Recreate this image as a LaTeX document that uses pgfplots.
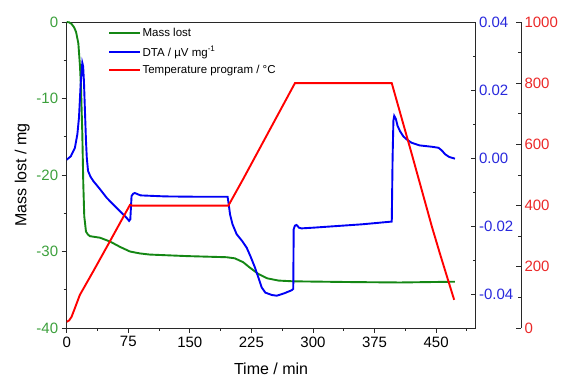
\documentclass[border=0pt]{standalone}
\usepackage{fontspec}
\setmainfont{Liberation Sans}
\usepackage{pgfplots}
\pgfplotsset{compat=1.18}
\definecolor{mgreen}{RGB}{20,135,20}
\definecolor{mgreenT}{RGB}{60,160,60}
\definecolor{mblue}{RGB}{0,0,245}
\definecolor{mblueT}{RGB}{40,40,220}
\definecolor{mred}{RGB}{255,0,0}
\definecolor{mredT}{RGB}{235,40,40}
\definecolor{axgray}{RGB}{40,40,40}
\pgfplotsset{
  common/.style={
    width=408.8pt, height=306pt, scale only axis,
    xmin=0, xmax=498,
    /pgf/number format/assume math mode=true,
    /pgf/number format/1000 sep={},
    tick label style={font=\fontsize{15}{18}\selectfont},
    axis line style={axgray, line width=0.8pt},
    every tick/.style={axgray, line width=0.8pt},
    major tick length=5pt, minor tick length=3pt,
  }
}
\begin{document}
\begin{tikzpicture}
\begin{axis}[common, name=main,
  ymin=-40, ymax=0,
  xtick={0,75,...,450}, minor xtick={37.5,112.5,...,487.5},
  ytick={-40,-30,...,0}, minor ytick={-35,-25,...,-5},
  xtick pos=bottom, ytick pos=left, tick align=outside,
  yticklabel style={text=mgreenT},
  xlabel={Time / min}, ylabel={Mass lost / mg},
  label style={font=\fontsize{16}{19}\selectfont},
  xlabel style={yshift=-8.5pt},
]
\addplot[mgreen, line width=1.9pt] coordinates {
(0,0) (3,-0.05) (6,-0.26) (9,-0.7) (11.4,-1.3) (14.2,-2.8) (16.2,-5.8) (17.4,-8.5)
(19,-14.5) (20.2,-21.1) (21.4,-25.4) (23.5,-27.4) (26,-27.8) (28.4,-28.0) (40.6,-28.2)
(52.8,-28.7) (65,-29.4) (77,-30.0) (89,-30.25) (101,-30.4) (146,-30.6) (195,-30.75)
(205,-30.9) (215,-31.4) (223,-32.1) (233,-32.9) (244,-33.5) (258,-33.8) (276,-33.9)
(350,-34.0) (406,-34.05) (473,-33.95)
};
\end{axis}
\begin{axis}[common,
  ymin=-0.05, ymax=0.04,
  axis y line*=right, axis x line=none, tick align=inside,
  ytick={-0.04,-0.02,0,0.02,0.04}, minor ytick={-0.03,-0.01,0.01,0.03},
  scaled y ticks=false,
  yticklabel style={text=mblueT, /pgf/number format/.cd, fixed, fixed zerofill, precision=2},
]
\addplot[mblue, line width=1.9pt] coordinates {
(0,-0.0005) (5,0.0005) (10,0.003) (13,0.007) (15,0.012) (17,0.0217) (19,0.028) (20,0.027)
(21,0.0226) (22.5,0.012) (23.5,0.005) (24.5,0.000) (26,-0.0038) (29,-0.0055) (32.5,-0.0068)
(40,-0.0090) (48.7,-0.0117) (60,-0.0145) (73,-0.0176) (76,-0.0185) (77.5,-0.018) (79,-0.0112)
(81,-0.0105) (83,-0.0103) (90,-0.011) (120,-0.0113) (160,-0.0114) (196,-0.0114) (197,-0.013)
(199,-0.0166) (202,-0.0195) (207,-0.0224) (214,-0.0245) (219.3,-0.0264) (224,-0.029)
(229,-0.032) (234,-0.0355) (237.6,-0.0381) (242,-0.0396) (250,-0.0403) (256,-0.0405)
(265,-0.0398) (274,-0.0389) (276,-0.0385) (276.5,-0.021) (278,-0.0199) (280,-0.0197)
(283,-0.0205) (286,-0.0207) (300,-0.0205) (330,-0.0200) (360,-0.0195) (396,-0.0187)
(397,0.000) (398,0.011) (399,0.0124) (401,0.0115) (403,0.0095) (406,0.0079) (410,0.0064)
(414,0.0055) (420,0.0045) (430,0.0037) (445,0.0033) (453,0.003) (457,0.0022) (461,0.0011)
(466,0.0003) (473,-0.0002)
};
\end{axis}
\begin{axis}[common,
  ymin=0, ymax=1000,
  axis y line*=right, axis x line=none, axis y line shift=45.5pt, tick align=inside,
  ytick={0,200,...,1000}, minor ytick={100,300,...,900},
  yticklabel style={text=mredT},
  legend style={at={(axis description cs:0.101,0.985)}, anchor=north west, draw=none, fill=none,
    font=\fontsize{11.5}{13}\selectfont, row sep=5pt, inner sep=0pt, nodes={inner sep=1.5pt}},
  legend cell align=left,
  legend image code/.code={\draw[#1, line width=1.9pt] (0pt,0pt) -- (31pt,0pt);},
]
\addlegendimage{mgreen}
\addlegendentry{Mass lost}
\addlegendimage{mblue}
\addlegendentry{DTA / µV mg\textsuperscript{-1}}
\addlegendimage{mred}
\addlegendentry{Temperature program / °C}
\addplot[mred, line width=1.9pt, forget plot] coordinates {
(0,20) (3,25) (6,37) (10,65) (16,108) (32.5,186) (52.8,284) (77,402) (80,400) (197,400)
(215,487) (278,800) (396,800) (420,572) (445,330) (455,240) (472,92)
};
\end{axis}
\pgfresetboundingbox
\path (-66.7pt,-51pt) rectangle (495.3pt,328pt);
\end{tikzpicture}
\end{document}
